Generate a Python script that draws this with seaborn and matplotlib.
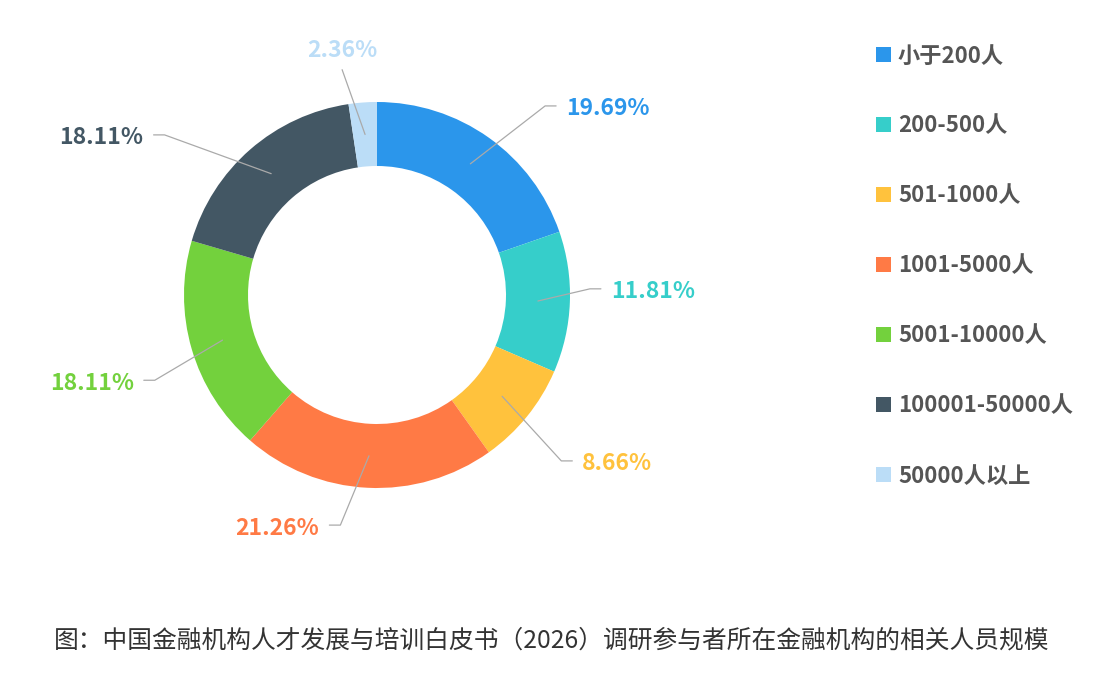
import numpy as np
import matplotlib
matplotlib.use('Agg')
import matplotlib.pyplot as plt
import seaborn as sns
from matplotlib.patches import Rectangle

# ---------------- data ----------------
categories = ['小于200人', '200-500人', '501-1000人', '1001-5000人',
              '5001-10000人', '100001-50000人', '50000人以上']
shares = [19.69, 11.81, 8.66, 21.26, 18.11, 18.11, 2.36]
colors_hex = ['#2B96EB', '#36CECA', '#FFC23D', '#FF7A45',
              '#73D13D', '#435764', '#BBDDF7']
caption = '图：中国金融机构人才发展与培训白皮书（2026）调研参与者所在金融机构的相关人员规模'

# label leader-line layout (elbow radius in px, angular nudge in degrees)
elbow_r = [253, 213, 248, 233, 238, 266, 228]
elbow_dang = [6.2, -3.8, 3.0, 6.2, -4.7, -11.9, -4.55]

sns.set_theme(style='white')
plt.rcParams['font.family'] = ['Noto Sans CJK SC', 'DejaVu Sans']

W, H = 1112, 681
fig = plt.figure(figsize=(W / 100, H / 100), dpi=100)
ax = fig.add_axes([0, 0, 1, 1])

cx, cy, R, r_in = 377, 295, 193, 129
palette = sns.color_palette(colors_hex)
ax.pie(shares, colors=palette, startangle=-90, counterclock=True,
       radius=R, center=(cx, cy),
       wedgeprops=dict(width=R - r_in, linewidth=0))
ax.set_xlim(0, W)
ax.set_ylim(H, 0)
ax.set_aspect('equal')
ax.axis('off')


def pt(r, ang):
    a = np.deg2rad(ang)
    return cx + r * np.sin(a), cy - r * np.cos(a)


total = sum(shares)
cum = np.cumsum([0] + shares[:-1])
line_col = '#AAAAAA'
lab_fs = 16.5
dy_txt = 3
for i, v in enumerate(shares):
    mid = (cum[i] + v / 2) / total * 360
    x0, y0 = pt(161, mid)
    x1, y1 = pt(elbow_r[i], mid + elbow_dang[i])
    lab = f'{v:.2f}%'
    col = palette[i]
    if i == len(shares) - 1:
        # small top slice: straight line, label centred above
        ax.plot([x0, x1], [y0, y1], color=line_col, lw=0.9)
        ax.text(x1, y1 - 22 + dy_txt, lab, ha='center', va='center',
                fontsize=lab_fs, color=col, fontweight='bold')
        continue
    side = 1 if np.sin(np.deg2rad(mid + elbow_dang[i])) >= 0 else -1
    x2 = x1 + side * 11
    ax.plot([x0, x1, x2], [y0, y1, y1], color=line_col, lw=0.9)
    ax.text(x2 + side * 10, y1 + dy_txt, lab,
            ha='left' if side > 0 else 'right',
            va='center', fontsize=lab_fs, color=col, fontweight='bold')

# legend
for i, cat in enumerate(categories):
    yc = 54 + i * 70
    ax.add_patch(Rectangle((876, yc - 7.5), 15, 15, color=palette[i], lw=0))
    ax.text(898, yc + 2, cat, ha='left', va='center', fontsize=16,
            color='#555555', fontweight='bold')

ax.text(W / 2 - 4, 640, caption, ha='center', va='center', fontsize=17.8,
        color='#333333')

fig.savefig('out.png', dpi=100)
